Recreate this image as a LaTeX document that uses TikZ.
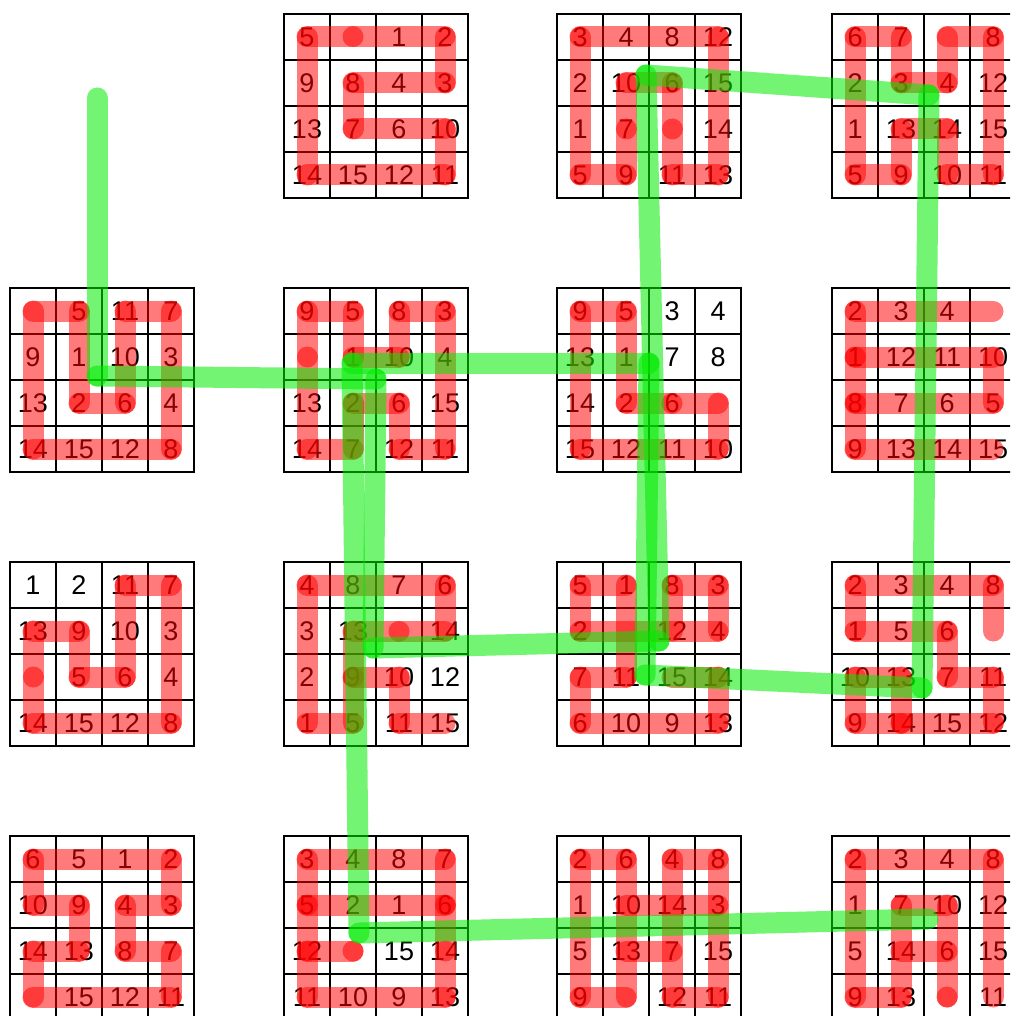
\documentclass[tikz,border=0pt]{standalone}
\usepackage{fontspec}
\setmainfont{Liberation Sans}
\definecolor{grn}{RGB}{0,235,0}
\tikzset{
  redp/.style={draw=red, opacity=.52, line width=21pt, line cap=round},
  greenp/.style={draw=grn, opacity=.55, line width=21pt, line cap=round},
  num/.style={font=\fontsize{27}{27}\selectfont, inner sep=0pt, text=black},
  gline/.style={line width=1.6pt, draw=black},
  gouter/.style={line width=2.2pt, draw=black},
}
\newcommand{\bid}{}
\newcommand{\fprow}[5]{%
  \node[num] (n\bid-#1-0) at (0.5,#1+.5) {#2};
  \node[num] (n\bid-#1-1) at (1.5,#1+.5) {#3};
  \node[num] (n\bid-#1-2) at (2.5,#1+.5) {#4};
  \node[num] (n\bid-#1-3) at (3.5,#1+.5) {#5};}
\newcommand{\rseg}[4]{\draw[redp] ({#2+.5},{#1+.5}) -- ({#4+.5},{#3+.5});}
\newcommand{\rdot}[2]{\fill[red,opacity=.52] ({#2+.5},{#1+.5}) circle (10.5pt);}
\newcommand{\fpgrid}{%
  \foreach \k in {1,2,3}{\draw[gline] (\k,0)--(\k,4); \draw[gline] (0,\k)--(4,\k);}
  \draw[gouter] (0,0) rectangle (4,4);}
\begin{document}
\begin{tikzpicture}[x=1pt,y=-1pt]
\clip (0,0) rectangle (1010,1016);
\fill[white] (0,0) rectangle (1010,1016);
% ---------- B01
\begin{scope}[shift={(284,14)},x=46pt,y=-46pt]
\renewcommand{\bid}{b01}\fpgrid
\fprow{0}{5}{}{1}{2}\fprow{1}{9}{8}{4}{3}\fprow{2}{13}{7}{6}{10}\fprow{3}{14}{15}{12}{11}
\rseg{0}{0}{0}{1}\rseg{0}{1}{0}{3}\rseg{0}{3}{1}{3}\rseg{1}{3}{1}{1}\rseg{1}{1}{2}{1}
\rseg{2}{1}{2}{3}\rseg{2}{3}{3}{3}\rseg{3}{3}{3}{0}\rseg{3}{0}{0}{0}
\end{scope}
% ---------- B02
\begin{scope}[shift={(557,14)},x=46pt,y=-46pt]
\renewcommand{\bid}{b02}\fpgrid
\fprow{0}{3}{4}{8}{12}\fprow{1}{2}{10}{6}{15}\fprow{2}{1}{7}{}{14}\fprow{3}{5}{9}{11}{13}
\rseg{0}{0}{0}{3}\rseg{0}{3}{3}{3}\rseg{3}{3}{3}{2}\rseg{3}{2}{2}{2}\rseg{2}{2}{1}{2}
\rseg{1}{2}{1}{1}\rseg{1}{1}{2}{1}\rseg{2}{1}{3}{1}\rseg{3}{1}{3}{0}\rseg{3}{0}{0}{0}
\end{scope}
% ---------- B03
\begin{scope}[shift={(832,14)},x=46pt,y=-46pt]
\renewcommand{\bid}{b03}\fpgrid
\fprow{0}{6}{7}{}{8}\fprow{1}{2}{3}{4}{12}\fprow{2}{1}{13}{14}{15}\fprow{3}{5}{9}{10}{11}
\rseg{0}{0}{0}{1}\rseg{0}{1}{1}{1}\rseg{1}{1}{1}{2}\rseg{1}{2}{0}{2}\rseg{0}{2}{0}{3}
\rseg{0}{3}{3}{3}\rseg{3}{3}{3}{2}\rseg{3}{2}{2}{2}\rseg{2}{2}{2}{1}\rseg{2}{1}{3}{1}
\rseg{3}{1}{3}{0}\rseg{3}{0}{0}{0}
\end{scope}
% ---------- B10
\begin{scope}[shift={(10,288)},x=46pt,y=-46pt]
\renewcommand{\bid}{b10}\fpgrid
\fprow{0}{}{5}{11}{7}\fprow{1}{9}{1}{10}{3}\fprow{2}{13}{2}{6}{4}\fprow{3}{14}{15}{12}{8}
\rseg{0}{0}{0}{1}\rseg{0}{1}{2}{1}\rseg{2}{1}{2}{2}\rseg{2}{2}{0}{2}\rseg{0}{2}{0}{3}
\rseg{0}{3}{3}{3}\rseg{3}{3}{3}{0}\rseg{3}{0}{0}{0}
\end{scope}
% ---------- B11
\begin{scope}[shift={(284,288)},x=46pt,y=-46pt]
\renewcommand{\bid}{b11}\fpgrid
\fprow{0}{9}{5}{8}{3}\fprow{1}{}{1}{10}{4}\fprow{2}{13}{2}{6}{15}\fprow{3}{14}{7}{12}{11}
\rseg{1}{0}{0}{0}\rseg{0}{0}{0}{1}\rseg{0}{1}{1}{1}\rseg{1}{1}{1}{2}\rseg{1}{2}{0}{2}
\rseg{0}{2}{0}{3}\rseg{0}{3}{3}{3}\rseg{3}{3}{3}{2}\rseg{3}{2}{2}{2}\rseg{2}{2}{2}{1}
\rseg{2}{1}{3}{1}\rseg{3}{1}{3}{0}\rseg{3}{0}{1}{0}
\end{scope}
% ---------- B12
\begin{scope}[shift={(557,288)},x=46pt,y=-46pt]
\renewcommand{\bid}{b12}\fpgrid
\fprow{0}{9}{5}{3}{4}\fprow{1}{13}{1}{7}{8}\fprow{2}{14}{2}{6}{}\fprow{3}{15}{12}{11}{10}
\rseg{0}{0}{0}{1}\rseg{0}{1}{2}{1}\rseg{2}{1}{2}{2}\rseg{2}{2}{2}{3}\rseg{2}{3}{3}{3}
\rseg{3}{3}{3}{0}\rseg{3}{0}{0}{0}
\end{scope}
% ---------- B13
\begin{scope}[shift={(832,288)},x=46pt,y=-46pt]
\renewcommand{\bid}{b13}\fpgrid
\fprow{0}{2}{3}{4}{}\fprow{1}{1}{12}{11}{10}\fprow{2}{8}{7}{6}{5}\fprow{3}{9}{13}{14}{15}
\rseg{0}{3}{0}{0}\rseg{0}{0}{1}{0}\rseg{1}{0}{1}{3}\rseg{1}{3}{2}{3}\rseg{2}{3}{2}{0}
\rseg{1}{0}{2}{0}\rseg{2}{0}{3}{0}\rseg{3}{0}{3}{3}
\end{scope}
% ---------- B20
\begin{scope}[shift={(10,562)},x=46pt,y=-46pt]
\renewcommand{\bid}{b20}\fpgrid
\fprow{0}{1}{2}{11}{7}\fprow{1}{13}{9}{10}{3}\fprow{2}{}{5}{6}{4}\fprow{3}{14}{15}{12}{8}
\rseg{1}{0}{1}{1}\rseg{1}{1}{2}{1}\rseg{2}{1}{2}{2}\rseg{2}{2}{0}{2}\rseg{0}{2}{0}{3}
\rseg{0}{3}{3}{3}\rseg{3}{3}{3}{0}\rseg{3}{0}{2}{0}\rseg{2}{0}{1}{0}
\end{scope}
% ---------- B21
\begin{scope}[shift={(284,562)},x=46pt,y=-46pt]
\renewcommand{\bid}{b21}\fpgrid
\fprow{0}{4}{8}{7}{6}\fprow{1}{3}{13}{}{14}\fprow{2}{2}{9}{10}{12}\fprow{3}{1}{5}{11}{15}
\rseg{3}{3}{3}{2}\rseg{3}{2}{2}{2}\rseg{2}{2}{2}{1}\rseg{2}{1}{1}{1}\rseg{1}{1}{1}{2}
\rseg{1}{2}{1}{3}\rseg{1}{3}{0}{3}\rseg{0}{3}{0}{0}\rseg{0}{0}{3}{0}\rseg{3}{0}{3}{1}
\rseg{3}{1}{2}{1}
\end{scope}
% ---------- B22
\begin{scope}[shift={(557,562)},x=46pt,y=-46pt]
\renewcommand{\bid}{b22}\fpgrid
\fprow{0}{5}{1}{8}{3}\fprow{1}{2}{}{12}{4}\fprow{2}{7}{11}{15}{14}\fprow{3}{6}{10}{9}{13}
\rseg{0}{0}{0}{1}\rseg{0}{0}{1}{0}\rseg{1}{0}{1}{3}\rseg{0}{1}{2}{1}\rseg{2}{1}{2}{0}
\rseg{2}{0}{3}{0}\rseg{3}{0}{3}{3}\rseg{3}{3}{2}{3}\rseg{2}{3}{2}{2}\rseg{0}{2}{0}{3}
\rseg{0}{3}{1}{3}\rseg{0}{2}{1}{2}
\end{scope}
% ---------- B23
\begin{scope}[shift={(832,562)},x=46pt,y=-46pt]
\renewcommand{\bid}{b23}\fpgrid
\fprow{0}{2}{3}{4}{8}\fprow{1}{1}{5}{6}{}\fprow{2}{10}{13}{7}{11}\fprow{3}{9}{14}{15}{12}
\rseg{1}{3}{0}{3}\rseg{0}{3}{0}{0}\rseg{0}{0}{1}{0}\rseg{1}{0}{1}{2}\rseg{1}{2}{2}{2}
\rseg{2}{2}{2}{3}\rseg{2}{3}{3}{3}\rseg{3}{3}{3}{1}\rseg{3}{1}{2}{1}\rseg{2}{1}{2}{0}
\rseg{2}{0}{3}{0}\rseg{3}{0}{3}{1}
\end{scope}
% ---------- B30
\begin{scope}[shift={(10,836)},x=46pt,y=-46pt]
\renewcommand{\bid}{b30}\fpgrid
\fprow{0}{6}{5}{1}{2}\fprow{1}{10}{9}{4}{3}\fprow{2}{14}{13}{8}{7}\fprow{3}{}{15}{12}{11}
\rseg{0}{0}{0}{3}\rseg{0}{3}{1}{3}\rseg{1}{3}{1}{2}\rseg{1}{2}{2}{2}\rseg{2}{2}{2}{3}
\rseg{2}{3}{3}{3}\rseg{3}{3}{3}{0}\rseg{3}{0}{2}{0}\rseg{2}{0}{2}{1}\rseg{2}{1}{1}{1}
\rseg{1}{1}{1}{0}\rseg{1}{0}{0}{0}
\end{scope}
% ---------- B31
\begin{scope}[shift={(284,836)},x=46pt,y=-46pt]
\renewcommand{\bid}{b31}\fpgrid
\fprow{0}{3}{4}{8}{7}\fprow{1}{5}{2}{1}{6}\fprow{2}{12}{}{15}{14}\fprow{3}{11}{10}{9}{13}
\rseg{0}{0}{0}{3}\rseg{0}{3}{1}{3}\rseg{1}{3}{2}{3}\rseg{2}{3}{3}{3}\rseg{1}{3}{1}{0}
\rseg{0}{0}{1}{0}\rseg{1}{0}{2}{0}\rseg{2}{0}{3}{0}\rseg{2}{0}{2}{1}\rseg{3}{3}{3}{0}
\rdot{2}{1}
\end{scope}
% ---------- B32
\begin{scope}[shift={(557,836)},x=46pt,y=-46pt]
\renewcommand{\bid}{b32}\fpgrid
\fprow{0}{2}{6}{4}{8}\fprow{1}{1}{10}{14}{3}\fprow{2}{5}{13}{7}{15}\fprow{3}{9}{}{12}{11}
\rseg{0}{0}{0}{1}\rseg{0}{0}{3}{0}\rseg{3}{0}{3}{1}\rseg{0}{1}{3}{1}\rseg{1}{1}{1}{3}
\rseg{2}{1}{2}{2}\rseg{0}{2}{0}{3}\rseg{0}{2}{3}{2}\rseg{0}{3}{3}{3}\rseg{3}{2}{3}{3}
\end{scope}
% ---------- B33
\begin{scope}[shift={(832,836)},x=46pt,y=-46pt]
\renewcommand{\bid}{b33}\fpgrid
\fprow{0}{2}{3}{4}{8}\fprow{1}{1}{7}{10}{12}\fprow{2}{5}{14}{6}{15}\fprow{3}{9}{13}{}{11}
\rseg{0}{0}{0}{3}\rseg{0}{0}{3}{0}\rseg{3}{0}{3}{1}\rseg{3}{1}{1}{1}\rseg{1}{1}{1}{2}
\rseg{1}{2}{3}{2}\rseg{2}{1}{2}{2}\rseg{0}{3}{3}{3}
\rdot{3}{2}
\end{scope}
% ---------- green route
\coordinate (g1) at (97,98);
\coordinate (g2) at (97,376);
\coordinate (g3) at (376,379);
\coordinate (g4) at (373,648);
\coordinate (g5) at (659,641);
\coordinate (g6) at (646,75);
\coordinate (g7) at (929,95);
\coordinate (g8) at (922,688);
\coordinate (g9) at (645,675);
\coordinate (g10) at (649,363);
\coordinate (g11) at (352,363);
\coordinate (g12) at (359,933);
\coordinate (g13) at (928,919);
\foreach \a/\b in {g1/g2,g2/g3,g3/g4,g4/g5,g5/g6,g6/g7,g7/g8,g8/g9,g9/g10,g10/g11,g11/g12,g12/g13}
  \draw[greenp] (\a) -- (\b);
\end{tikzpicture}
\end{document}
